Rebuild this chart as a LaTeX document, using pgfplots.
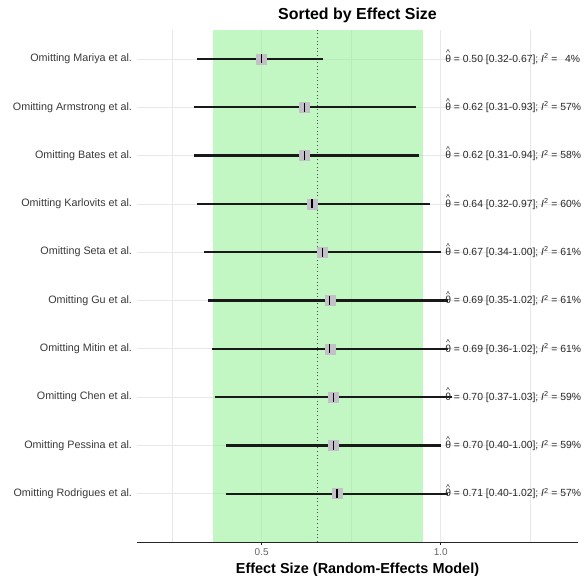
\documentclass[border=0pt]{standalone}
\usepackage{pgfplots}
\pgfplotsset{compat=1.18}
\usepackage{pgfplotstable}
\usepackage{fontspec}
\setmainfont{Liberation Sans}

\definecolor{bandgreen}{RGB}{144,238,144}
\definecolor{ptgrey}{RGB}{196,192,202}
\definecolor{gridgrey}{RGB}{232,232,232}

% leave-one-out estimates: row, pooled estimate, lower and upper CI
\pgfplotstableread{
row est lo hi
10 0.50 0.32 0.67
9 0.62 0.31 0.93
8 0.62 0.31 0.94
7 0.64 0.32 0.97
6 0.67 0.34 1.00
5 0.69 0.35 1.02
4 0.69 0.36 1.02
3 0.70 0.37 1.03
2 0.70 0.40 1.00
1 0.71 0.40 1.02
}\loo

\newcommand{\thetahat}{\leavevmode\hbox{\ooalign{θ\cr\hidewidth\raisebox{0.62em}{\scalebox{0.8}{\^{}}}\hidewidth\cr}}}
\newcommand{\lab}[4]{\thetahat{} = #1 [#2-#3]; \textit{I}\textsuperscript{2} = #4}
\tikzset{annot/.style={anchor=west, inner sep=0pt, font=\fontsize{10.4}{12}\selectfont, text=black!85}}

\begin{document}
\begin{tikzpicture}
\begin{axis}[
  scale only axis,
  width=441bp, height=512bp,
  xmin=0.152, xmax=1.383,
  ymin=0, ymax=10.6,
  clip=false,
  axis lines*=left,
  y axis line style={draw=none},
  x axis line style={line width=0.9bp, black!85},
  xtick={0.5,1.0},
  xticklabels={0.5,1.0},
  minor xtick={0.25,0.75,1.25},
  minor tick length=0pt,
  tick align=outside,
  major tick length=3bp,
  xtick style={black!85, line width=0.6bp},
  ytick style={draw=none},
  ytick={1,...,10},
  yticklabels={Omitting Rodrigues et al., Omitting Pessina et al., Omitting Chen et al., Omitting Mitin et al., Omitting Gu et al., Omitting Seta et al., Omitting Karlovits et al., Omitting Bates et al., Omitting Armstrong et al., Omitting Mariya et al.},
  yticklabel style={font=\fontsize{10.8}{12}\selectfont, text=black!78, xshift=1.5bp},
  xticklabel style={font=\fontsize{10}{12}\selectfont, text=black!60},
  grid=both,
  major grid style={gridgrey, line width=0.6bp},
  minor grid style={gridgrey, line width=0.6bp},
  title={Sorted by Effect Size},
  title style={font=\fontsize{16}{18}\selectfont\bfseries, at={(axis description cs:0.5,1)}, anchor=base, yshift=5bp},
  xlabel={Effect Size (Random-Effects Model)},
  xlabel style={font=\fontsize{14.5}{17}\selectfont\bfseries, at={(axis description cs:0.5,0)}, anchor=base, yshift=-31bp},
]
% pooled-estimate confidence band
\addplot[draw=none, fill=bandgreen, fill opacity=0.55]
  coordinates {(0.363,0) (0.949,0) (0.949,10.6) (0.363,10.6)} -- cycle;
% overall pooled estimate
\addplot[black!70, line width=1bp, dash pattern=on 1bp off 2.6bp]
  coordinates {(0.655,0) (0.655,10.6)};
% weight squares
\addplot[only marks, mark=square*, mark size=5bp, ptgrey, mark options={fill=ptgrey, draw=ptgrey}]
  table[x=est, y=row] {\loo};
% confidence intervals and point estimates
\addplot[only marks, mark=|, mark size=4.5bp, mark options={black, line width=1.5bp},
  error bars/.cd, x dir=both, x explicit, error mark=none,
  error bar style={line width=2.3bp, black!90}]
  table[x=est, y=row,
        x error plus expr=\thisrow{hi}-\thisrow{est},
        x error minus expr=\thisrow{est}-\thisrow{lo}] {\loo};
% annotations
\node[annot] at (axis cs:1.012,10) {\lab{0.50}{0.32}{0.67}{\ \,4\%}};
\node[annot] at (axis cs:1.012,9) {\lab{0.62}{0.31}{0.93}{57\%}};
\node[annot] at (axis cs:1.012,8) {\lab{0.62}{0.31}{0.94}{58\%}};
\node[annot] at (axis cs:1.012,7) {\lab{0.64}{0.32}{0.97}{60\%}};
\node[annot] at (axis cs:1.012,6) {\lab{0.67}{0.34}{1.00}{61\%}};
\node[annot] at (axis cs:1.012,5) {\lab{0.69}{0.35}{1.02}{61\%}};
\node[annot] at (axis cs:1.012,4) {\lab{0.69}{0.36}{1.02}{61\%}};
\node[annot] at (axis cs:1.012,3) {\lab{0.70}{0.37}{1.03}{59\%}};
\node[annot] at (axis cs:1.012,2) {\lab{0.70}{0.40}{1.00}{59\%}};
\node[annot] at (axis cs:1.012,1) {\lab{0.71}{0.40}{1.02}{57\%}};
\end{axis}
\pgfresetboundingbox
\path (current axis.south west) ++(-137bp,-38bp) rectangle ([shift={(8bp,30bp)}]current axis.north east);
\end{tikzpicture}
\end{document}
